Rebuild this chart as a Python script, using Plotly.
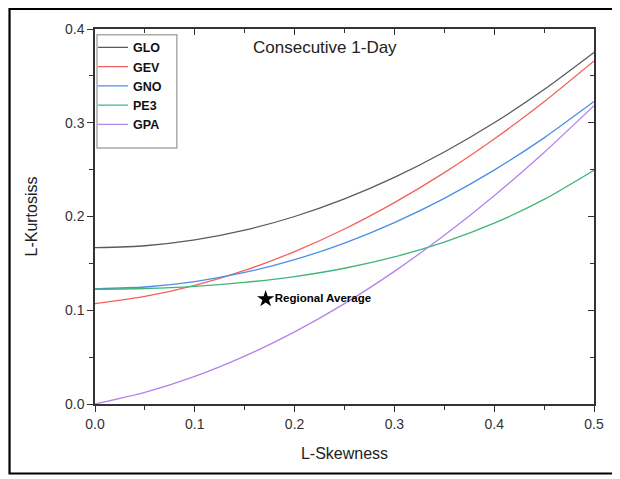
import plotly.graph_objects as go

skew = [0.0, 0.05, 0.10, 0.15, 0.20, 0.25, 0.30, 0.35, 0.40, 0.45, 0.50]
glo = [0.1667, 0.1688, 0.1750, 0.1854, 0.2000, 0.2188, 0.2417, 0.2688, 0.3000, 0.3354, 0.3750]
gev = [0.1070, 0.1147, 0.1265, 0.1425, 0.1626, 0.1867, 0.2148, 0.2468, 0.2827, 0.3224, 0.3659]
gno = [0.1228, 0.1248, 0.1306, 0.1403, 0.1540, 0.1717, 0.1935, 0.2194, 0.2495, 0.2839, 0.3226]
pe3 = [0.1224, 0.1232, 0.1255, 0.1297, 0.1359, 0.1448, 0.1569, 0.1727, 0.1929, 0.2182, 0.2494]
gpa = [0.0000, 0.0124, 0.0294, 0.0510, 0.0769, 0.1071, 0.1415, 0.1799, 0.2222, 0.2683, 0.3182]
names = ["GLO", "GEV", "GNO", "PE3", "GPA"]
colors = ["#5a5a5a", "#f2625c", "#4a8ee8", "#3fb57a", "#b483ec"]
region_x = [0.171]
region_y = [0.112]
region_label = "Regional Average"
title_text = "Consecutive 1-Day"
x_title = "L-Skewness"
y_title = "L-Kurtosiss"

FONT = "Liberation Sans, Arial"

fig = go.Figure()
for name, ys, c in zip(names, [glo, gev, gno, pe3, gpa], colors):
    fig.add_trace(go.Scatter(x=skew, y=ys, mode="lines", name=name,
                             line=dict(color=c, width=1.3, shape="spline", smoothing=0.6)))

fig.add_trace(go.Scatter(x=region_x, y=region_y, mode="markers+text",
                         marker=dict(symbol="star", size=13, color="black"),
                         text=["<b>" + region_label + "</b>"], textposition="middle right",
                         textfont=dict(size=11.5, color="black", family=FONT),
                         showlegend=False))

# dummy trace for mirror axes
fig.add_trace(go.Scatter(x=[0], y=[0], xaxis="x2", yaxis="y2", mode="markers",
                         marker=dict(opacity=0), showlegend=False, hoverinfo="skip"))

axis_font = dict(family=FONT, size=14, color="#333333")
fig.update_layout(
    width=612, height=471,
    margin=dict(l=87, r=26, t=21, b=75),
    paper_bgcolor="white", plot_bgcolor="white",
    font=dict(family=FONT, color="#222222"),
    xaxis=dict(range=[0, 0.5], tickvals=[0, 0.1, 0.2, 0.3, 0.4, 0.5],
               ticktext=["0.0", "0.1", "0.2", "0.3", "0.4", "0.5"],
               ticks="outside", ticklen=6, tickwidth=1.3, tickcolor="#333",
               minor=dict(ticks="outside", dtick=0.05, ticklen=4, tickwidth=1.2, tickcolor="#333"),
               showline=True, linecolor="#333", linewidth=1.5, showgrid=False, zeroline=False,
               tickfont=axis_font,
               title=dict(text=x_title, font=dict(size=16, color="#222"), standoff=17)),
    yaxis=dict(range=[0, 0.4], tickvals=[0, 0.1, 0.2, 0.3, 0.4],
               ticktext=["0.0", "0.1", "0.2", "0.3", "0.4"],
               ticks="outside", ticklen=6, tickwidth=1.3, tickcolor="#333",
               minor=dict(ticks="outside", dtick=0.05, ticklen=4, tickwidth=1.2, tickcolor="#333"),
               showline=True, linecolor="#333", linewidth=1.5, showgrid=False, zeroline=False,
               tickfont=axis_font,
               title=dict(text=y_title, font=dict(size=16, color="#222"), standoff=23)),
    xaxis2=dict(range=[0, 0.5], overlaying="x", side="top", anchor="y2",
                dtick=0.1, ticks="inside", ticklen=6, tickwidth=1.3, tickcolor="#333",
                minor=dict(ticks="inside", dtick=0.05, ticklen=4, tickwidth=1.2, tickcolor="#333"),
                showticklabels=False, showline=True, linecolor="#333", linewidth=1.5,
                showgrid=False, zeroline=False),
    yaxis2=dict(range=[0, 0.4], overlaying="y", side="right", anchor="x2",
                dtick=0.1, ticks="inside", ticklen=6, tickwidth=1.3, tickcolor="#333",
                minor=dict(ticks="inside", dtick=0.05, ticklen=4, tickwidth=1.2, tickcolor="#333"),
                showticklabels=False, showline=True, linecolor="#333", linewidth=1.5,
                showgrid=False, zeroline=False),
    legend=dict(x=-0.004, y=0.99, xanchor="left", yanchor="top",
                bgcolor="rgba(0,0,0,0)", borderwidth=0,
                font=dict(size=12.5, color="#111", family=FONT, weight="bold"),
                tracegroupgap=0, itemwidth=30),
    showlegend=True,
)

# legend frame
fig.add_shape(type="rect", xref="paper", yref="paper", x0=0.004, x1=0.164, y0=0.683, y1=0.985,
              line=dict(color="#aaaaaa", width=1.5), fillcolor="rgba(0,0,0,0)")

fig.add_annotation(text=title_text, x=0.461, y=0.952, xref="paper", yref="paper",
                   xanchor="center", yanchor="middle",
                   showarrow=False, font=dict(size=17, color="#222"))

# outer frame
fig.add_shape(type="rect", xref="paper", yref="paper",
              x0=-0.1713, x1=1.0461, y0=-0.1853, y1=1.0533,
              line=dict(color="black", width=2.2))

fig.write_html("out.html")
